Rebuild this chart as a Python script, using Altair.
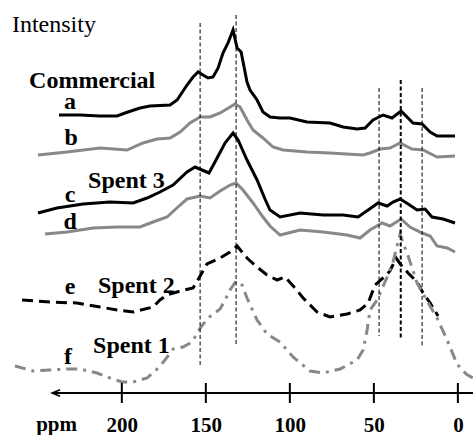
import altair as alt
import pandas as pd

# Chemical shift (ppm) and intensity (arbitrary units, spectra offset vertically)
a_ppm = [237.4, 224.9, 213.0, 202.8, 198.1, 189.2, 183.2, 171.3, 167.1, 161.2, 157.6, 154.6, 151.7, 148.7,
         145.7, 142.7, 139.8, 136.8, 133.8, 131.4, 129.0, 125.5, 123.7, 119.5, 116.0, 111.8, 105.8, 99.9,
         89.8, 76.1, 68.3, 60.0, 55.2, 50.5, 44.5, 39.2, 33.8, 26.7, 21.3, 16.5, 12.4, 1.7]
a_int = [278, 278, 277, 277, 280, 285, 287, 288, 293, 308, 316, 321, 318, 315,
         316, 325, 340, 350, 363, 345, 341, 311, 303, 293, 281, 276, 275, 275,
         271, 270, 266, 264, 265, 273, 278, 275, 282, 270, 269, 261, 257, 257]

b_ppm = [249.9, 232.6, 213.0, 196.9, 187.4, 179.0, 171.3, 165.3, 159.4, 153.4, 147.5, 141.5, 135.6, 132.6,
         129.6, 125.5, 121.9, 116.0, 110.0, 104.0, 89.8, 76.1, 56.4, 52.3, 46.3, 40.4, 34.4, 27.3, 20.7,
         12.4, 1.7]
b_int = [238, 241, 245, 243, 250, 254, 255, 261, 270, 276, 276, 280, 286, 289,
         286, 273, 263, 255, 246, 243, 241, 240, 238, 240, 244, 245, 250, 244, 243,
         236, 237]

c_ppm = [249.9, 238.6, 223.1, 207.0, 193.3, 185.0, 177.3, 169.5, 161.2, 156.4, 152.3, 148.1, 143.3, 138.6,
         133.8, 130.8, 125.5, 119.5, 114.8, 111.8, 105.8, 93.9, 80.2, 68.3, 59.4, 53.4, 47.5, 42.1, 38.6,
         34.4, 29.6, 24.3, 19.5, 15.4, 8.8, 1.7]
c_int = [180, 185, 189, 191, 190, 195, 201, 208, 221, 226, 223, 220, 235, 250,
         260, 253, 233, 213, 194, 183, 176, 180, 178, 178, 176, 183, 190, 187, 191,
         194, 189, 183, 184, 176, 174, 170]

d_ppm = [245.7, 232.6, 217.1, 202.8, 189.2, 181.4, 173.1, 165.3, 161.2, 153.4, 147.5, 141.5, 135.6, 132.0,
         127.9, 121.9, 116.0, 111.8, 105.8, 93.9, 80.2, 65.9, 58.2, 52.3, 45.1, 40.4, 33.8, 28.5, 21.3,
         16.5, 12.4, 6.4, 1.7]
d_int = [159, 161, 165, 166, 166, 171, 176, 188, 194, 197, 195, 202, 208, 210,
         203, 190, 176, 167, 158, 163, 161, 158, 155, 163, 170, 167, 174, 166, 160,
         157, 147, 145, 141]

e_ppm = [259.4, 242.7, 226.7, 213.0, 202.8, 193.3, 181.4, 177.3, 173.1, 165.3, 157.6, 153.4, 149.3, 141.5,
         135.6, 131.4, 125.5, 119.5, 113.6, 107.6, 102.9, 96.9, 92.1, 83.8, 76.1, 65.9, 58.2, 53.4, 49.3,
         44.5, 40.4, 36.8, 33.8, 29.6, 24.3, 20.7, 16.5, 11.8]
e_int = [93, 91, 90, 86, 83, 81, 86, 93, 98, 102, 105, 117, 129, 135,
         141, 147, 135, 126, 118, 113, 116, 105, 95, 81, 76, 79, 83, 90, 108,
         115, 122, 135, 128, 120, 111, 100, 90, 77]

f_ppm = [263.6, 252.8, 242.7, 232.6, 224.9, 214.8, 207.0, 199.9, 193.3, 185.0, 179.0, 174.3, 169.5, 163.6,
         158.2, 153.4, 148.7, 141.5, 138.6, 135.6, 132.0, 128.4, 125.5, 119.5, 113.6, 105.8, 98.1, 88.0,
         80.2, 70.1, 60.0, 56.4, 54.0, 52.3, 48.1, 42.1, 38.6, 34.4, 32.6, 29.6, 24.3, 18.3, 12.4, 6.4,
         0.5, -4.9, -9.0]
f_int = [27, 22, 23, 24, 24, 20, 15, 11, 11, 15, 24, 33, 44, 46,
         51, 65, 75, 84, 93, 103, 112, 108, 95, 73, 59, 51, 36, 22,
         20, 24, 33, 43, 63, 83, 93, 116, 131, 159, 150, 137, 110, 92, 75, 53,
         29, 19, 15]

# Reference shifts (dashed guides) and their vertical extent
guide_ppm = [153.4, 132.0, 46.9, 21.3]
guide_top = [370, 378, 305, 305]
guide_bot = [28, 48, 57, 47]
main_guide_ppm = [34.0]
main_guide_top = [313]
main_guide_bot = [54]

tick_values = [200, 150, 100, 50, 0]

name_labels = ["Commercial", "Spent 3", "Spent 2", "Spent 1"]
name_ppm = [255.2, 220.1, 214.2, 217.1]
name_int = [305, 205, 100, 40]
letter_labels = ["a", "b", "c", "d", "e", "f"]
letter_ppm = [230.8, 230.2, 230.8, 230.8, 230.8, 232.0]
letter_int = [284, 248, 191, 164, 99, 29]

FONT = "Liberation Serif"
W, H = 473, 393

xscale = alt.Scale(domain=[-9, 272.5], reverse=True, nice=False, zero=False)
yscale = alt.Scale(domain=[0, 393], nice=False, zero=False)
xaxis = alt.Axis(values=tick_values, format="d", title="", domain=False, ticks=False, tickSize=0,
                 grid=False, labelFont=FONT, labelFontWeight="bold", labelFontSize=21,
                 labelColor="black", labelPadding=38, labelBaseline="alphabetic",
                 labelFlush=False, labelOverlap=False)
X = alt.X("ppm:Q", scale=xscale, axis=xaxis)
Y = alt.Y("I:Q", scale=yscale, axis=None)

styles = {
    "a": dict(color="#000000"),
    "b": dict(color="#888888"),
    "c": dict(color="#000000"),
    "d": dict(color="#888888"),
    "e": dict(color="#000000", strokeDash=[11, 6]),
    "f": dict(color="#888888", strokeDash=[11, 6, 3, 6]),
}
curves = {"a": (a_ppm, a_int), "b": (b_ppm, b_int), "c": (c_ppm, c_int),
          "d": (d_ppm, d_int), "e": (e_ppm, e_int), "f": (f_ppm, f_int)}

layers = []
for key, (px, py) in curves.items():
    df = pd.DataFrame({"ppm": px, "I": py, "order": range(len(px))})
    layers.append(alt.Chart(df).mark_line(strokeWidth=3, **styles[key]).encode(
        x=X, y=Y, order="order:Q"))

guides = pd.DataFrame({"ppm": guide_ppm, "I": guide_top, "I2": guide_bot})
layers.append(alt.Chart(guides).mark_rule(color="black", strokeWidth=1, strokeDash=[4, 2.5]).encode(
    x=X, y=Y, y2="I2:Q"))
mg = pd.DataFrame({"ppm": main_guide_ppm, "I": main_guide_top, "I2": main_guide_bot})
layers.append(alt.Chart(mg).mark_rule(color="black", strokeWidth=2, strokeDash=[4, 2.5]).encode(
    x=X, y=Y, y2="I2:Q"))

# ppm axis line with arrow
axis_df = pd.DataFrame({"ppm": [241.5], "ppm2": [-9.0]})
layers.append(alt.Chart(axis_df).mark_rule(color="black", strokeWidth=2).encode(
    x=X, x2="ppm2:Q", y=alt.value(H)))
layers.append(alt.Chart(axis_df).mark_point(
    shape="M 2 -0.8 L 0 0 L 2 0.8", size=64, filled=False, color="black", strokeWidth=1.5, opacity=1).encode(
    x=X, y=alt.value(H)))
ticks_df = pd.DataFrame({"ppm": tick_values})
layers.append(alt.Chart(ticks_df).mark_rule(color="black", strokeWidth=2).encode(
    x=X, y=alt.value(H - 10), y2=alt.value(H + 10)))

# Labels
ndf = pd.DataFrame({"ppm": name_ppm, "I": name_int, "t": name_labels})
layers.append(alt.Chart(ndf).mark_text(font=FONT, fontWeight="bold", fontSize=24, align="left",
                                       baseline="alphabetic", color="black").encode(x=X, y=Y, text="t:N"))
ldf = pd.DataFrame({"ppm": letter_ppm, "I": letter_int, "t": letter_labels})
layers.append(alt.Chart(ldf).mark_text(font=FONT, fontWeight="bold", fontSize=24, align="center",
                                       baseline="alphabetic", color="black").encode(x=X, y=Y, text="t:N"))
tdf = pd.DataFrame({"ppm": [265.4], "I": [361], "t": ["Intensity"]})
layers.append(alt.Chart(tdf).mark_text(font=FONT, fontSize=24, align="left",
                                       baseline="alphabetic", color="black").encode(x=X, y=Y, text="t:N"))
pdf_ = pd.DataFrame({"ppm": [251.0], "I": [-38], "t": ["ppm"]})
layers.append(alt.Chart(pdf_).mark_text(font=FONT, fontWeight="bold", fontSize=21, align="left",
                                        baseline="alphabetic", color="black").encode(x=X, y=Y, text="t:N"))

chart = alt.layer(*layers).properties(
    width=W, height=H, autosize="none",
    padding={"left": 0, "right": 0, "top": 0, "bottom": 42},
    background="white",
).configure_view(stroke=None)

chart.save("out.html", embed_options={"renderer": "svg", "actions": False})
